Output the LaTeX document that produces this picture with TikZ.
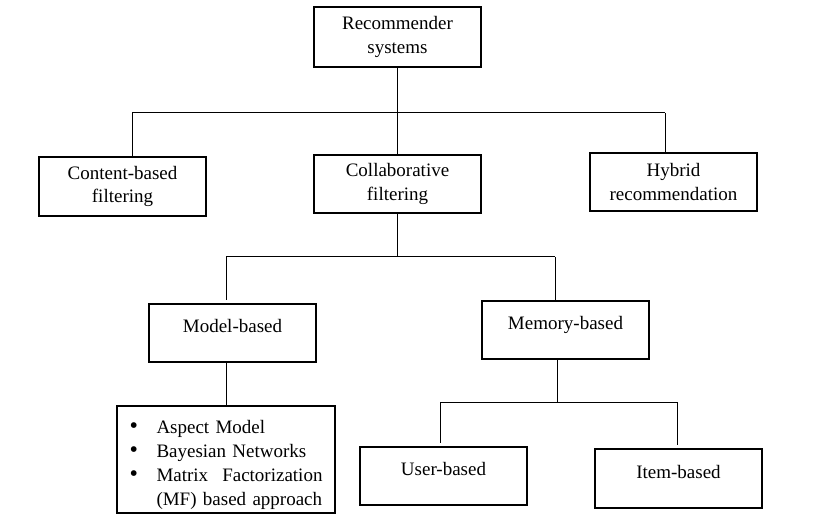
\documentclass[tikz,border=0pt]{standalone}
\usepackage{fontspec}
\setmainfont{Liberation Serif}
\newcommand{\bulletline}[1]{\par\noindent\makebox[27bp][l]{\fontsize{24bp}{24bp}\selectfont\textbullet}%
	\parbox[t]{166bp}{\hyphenpenalty=10000 #1}}
\begin{document}
\begin{tikzpicture}[x=1bp,y=-1bp,
		box/.style={draw,line width=1.8bp,minimum width=167bp,minimum height=58bp,align=center,inner sep=2bp,
			font=\fontsize{19bp}{23.5bp}\selectfont},
		onebox/.style={box,text depth=14bp},
		listbox/.style={draw,line width=1.8bp,text width=193bp,minimum height=107bp,inner xsep=12.5bp,
			font=\fontsize{19bp}{24bp}\selectfont},
		link/.style={line width=1bp}]
			\useasboundingbox (0,0) rectangle (815,515);
			% boxes
			\node [box,minimum height=60bp] (rec) at (397.5,37) {Recommender\\systems};
			\node [box,minimum height=59bp] (content) at (122.5,186.5) {Content-based\\filtering};
			\node [box] (collab) at (397.5,184) {Collaborative\\filtering};
			\node [box] (hybrid) at (673.5,182) {Hybrid\\recommendation};
			\node [onebox] (model) at (232.5,333) {Model-based};
			\node [onebox] (memory) at (565.5,330) {Memory-based};
			\node [listbox] (mlist) at (226,459.5) {\bulletline{Aspect Model}\bulletline{Bayesian Networks}\bulletline{Matrix\hfill Factorization\\(MF) based approach}};
			\node [onebox] (user) at (443.5,476) {User-based};
			\node [onebox,minimum height=59bp] (item) at (678.5,478.5) {Item-based};
			% junctions
			\coordinate (ca) at (132,113);
			\coordinate (ha) at (665,113);
			\coordinate (ma) at (226,257);
			\coordinate (mb) at (555,257);
			\coordinate (mc) at (557,402);
			\coordinate (ua) at (440,402);
			\coordinate (ub) at (677,402);
			% connectors
			\draw [link] (rec.south) -- (collab.north);
			\draw [link] (ca) -- (ha);
			\draw [link] (ca) -- (ca |- content.north);
			\draw [link] (ha) -- (ha |- hybrid.north);
			\draw [link] (collab.south) -- (collab.south |- ma);
			\draw [link] (ma) -- (mb);
			\draw [link,shorten >=3bp] (ma) -- (ma |- model.north);
			\draw [link] (mb) -- (mb |- memory.north);
			\draw [link] (ma |- model.south) -- (ma |- mlist.north);
			\draw [link] (mc |- memory.south) -- (mc);
			\draw [link] (ua) -- (ub);
			\draw [link,shorten >=3bp] (ua) -- (ua |- user.north);
			\draw [link,shorten >=3bp] (ub) -- (ub |- item.north);
		\end{tikzpicture}
\end{document}
